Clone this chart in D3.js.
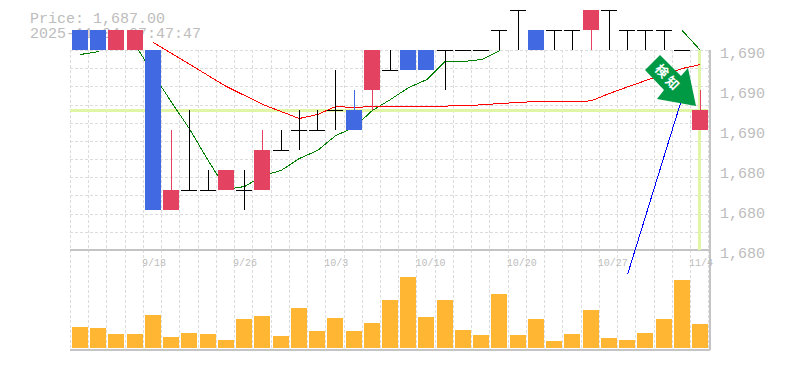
<!DOCTYPE html>
<html><head><meta charset="utf-8">
<script src="https://cdn.jsdelivr.net/npm/d3@7"></script>
<style>html,body{margin:0;padding:0;background:#fff;overflow:hidden}svg{display:block}text{font-family:"Liberation Mono",monospace}</style>
</head><body><div id="c"></div>
<script>
const dates=["9/11","9/12","9/16","9/17","9/18","9/19","9/22","9/24","9/25","9/26","9/29","9/30","10/1","10/2","10/3","10/6","10/7","10/8","10/9","10/10","10/14","10/15","10/16","10/17","10/20","10/21","10/22","10/23","10/24","10/27","10/28","10/29","10/30","10/31","11/4"];
const dateLabels=["9/18","9/26","10/3","10/10","10/20","10/27","11/4"];
const opens =[1691,1691,1690,1690,1690,1682,1683,1683,1683,1683,1683,1685,1686,1686,1687,1687,1688,1689,1690,1690,1690,1690,1690,1691,1692,1691,1691,1691,1691,1692,1691,1691,1691,1690,1686];
const closes=[1690,1690,1691,1691,1682,1683,1683,1683,1684,1683,1685,1685,1686,1686,1687,1686,1690,1689,1689,1689,1690,1690,1690,1691,1692,1690,1691,1691,1692,1692,1691,1691,1691,1690,1687];
const highs =[1691,1691,1691,1691,1690,1686,1687,1684,1684,1684,1686,1686,1687,1687,1689,1688,1690,1690,1690,1690,1690,1690,1690,1691,1692,1691,1691,1691,1692,1692,1691,1691,1691,1690,1688];
const lows  =[1690,1690,1690,1690,1682,1682,1683,1683,1683,1682,1683,1685,1685,1686,1686,1686,1687,1689,1689,1689,1688,1690,1690,1690,1690,1690,1690,1690,1690,1690,1690,1690,1690,1690,1686];
const volumes=[2100,2000,1400,1400,3300,1100,1500,1400,800,2900,3200,1200,4000,1700,3000,1700,2500,4800,7100,3100,4800,1800,1300,5400,1300,2900,700,1400,3800,1000,800,1500,2900,6800,2400];
const maShort=[1689.8,1689.95,null,1690.3,1688.8,1687.4,1686.05,1684.5,1683.05,1683.2,1683.75,1684,1684.6,1685,1685.75,1686.15,1687,1687.55,1688.15,1688.55,1689.45,1689.45,1689.55,1690,null,null,null,null,null,null,null,null,null,1691,1690];
const maLong=[null,null,null,null,1690.4,1689.85,1689.3,1688.75,1688.2,1687.75,1687.3,1686.95,1686.6,1686.8,1687.2,1687.15,1687.2,1687.18,1687.2,1687.2,1687.22,1687.25,1687.28,1687.35,1687.4,1687.45,1687.45,1687.45,1687.48,1687.85,1688.18,1688.5,1688.8,1689.1,1689.3];
const forecast=[null,null,null,null,null,null,null,null,null,null,null,null,null,null,null,null,null,null,null,null,null,null,null,null,null,null,null,null,null,null,1678.8,1681.75,1684.7,1687.65,null];
const priceTicks=[1690,1688,1686,1684,1682,1680];
const gridRows=d3.range(12);
const lastPrice=1687, lastIndex=34;
const infoLines=["Price: 1,687.00","2025-11-04 07:47:47"];
const arrowShape=[[660,55],[645,70],[664,90],[657,99],[696,106],[688,68],[681,76]];

const W=785,H=370;
const svg=d3.select("#c").append("svg").attr("width",W).attr("height",H);
const x=d3.scaleBand().domain(dates).range([70,70+18.235*dates.length]);
const cx=i=>x(dates[i])+10;
const left=i=>Math.round(x(dates[i])+2);
const y=d3.scaleLinear().domain([1680,1690]).range([250,50]);
const vy=d3.scaleLinear().domain([0,10000]).range([348,248]);
const gy=d3.scaleLinear().domain([0,11]).range([50,250]);
const grey="#bdbdbd", gridC="#dcdcdc";

svg.selectAll("text.info").data(infoLines).join("text").attr("class","info")
 .attr("x",30).attr("y",(d,i)=>23+i*15).attr("font-size",15).attr("fill",grey).text(d=>d);

const g=svg.append("g").attr("shape-rendering","crispEdges");
g.selectAll("line.gv").data(dates.concat(["end"])).join("line").attr("class","gv")
 .attr("x1",(d,i)=>Math.round(70+18.235*i)+.5).attr("x2",(d,i)=>Math.round(70+18.235*i)+.5)
 .attr("y1",50).attr("y2",350).attr("stroke",gridC).attr("stroke-dasharray","3,2");
g.selectAll("line.gh").data(gridRows).join("line").attr("class","gh")
 .attr("x1",70).attr("x2",710).attr("y1",d=>Math.round(gy(d))+.5).attr("y2",d=>Math.round(gy(d))+.5)
 .attr("stroke",gridC).attr("stroke-dasharray","3,2");
[[70,250,710,250],[70,350,710,350],[710,50,710,350]].forEach(a=>{
 g.append("line").attr("x1",a[0]).attr("y1",a[1]).attr("x2",a[2]).attr("y2",a[3]).attr("stroke","#c4c4c4").attr("stroke-width",2);
});
g.append("line").attr("x1",70).attr("x2",708).attr("y1",y(lastPrice)).attr("y2",y(lastPrice)).attr("stroke","#e0f5a5").attr("stroke-width",3);
g.append("line").attr("x1",cx(lastIndex)).attr("x2",cx(lastIndex)).attr("y1",50).attr("y2",250).attr("stroke","#e0f5a5").attr("stroke-width",3);

g.selectAll("rect.vol").data(volumes).join("rect").attr("class","vol")
 .attr("x",(d,i)=>left(i)).attr("width",16).attr("y",d=>vy(d)).attr("height",d=>vy(0)-vy(d)).attr("fill","#ffb733");

const ln=d3.line().defined(d=>d!=null).x((d,i)=>cx(i)+.5).y(d=>y(d)+.5);
[[maShort,"#008000"],[maLong,"#ff0000"],[forecast,"#0000ff"]].forEach(s=>{
 g.append("path").attr("d",ln(s[0])).attr("fill","none").attr("stroke",s[1]).attr("stroke-width",1);
});

const col=i=>closes[i]>opens[i]?"#e34360":closes[i]<opens[i]?"#4169e1":"#000";
const idx=d3.range(dates.length);
g.selectAll("line.wick").data(idx).join("line").attr("class","wick")
 .attr("x1",i=>left(i)+8.5).attr("x2",i=>left(i)+8.5).attr("y1",i=>y(highs[i])).attr("y2",i=>y(lows[i])).attr("stroke",col);
g.selectAll("rect.body").data(idx).join("rect").attr("class","body")
 .attr("x",i=>left(i)).attr("width",16)
 .attr("y",i=>y(Math.max(opens[i],closes[i])))
 .attr("height",i=>Math.max(1,y(Math.min(opens[i],closes[i]))-y(Math.max(opens[i],closes[i]))))
 .attr("fill",col);

svg.selectAll("text.py").data(priceTicks).join("text").attr("class","py")
 .attr("x",720).attr("y",d=>y(d)+8).attr("font-size",15).attr("fill",grey)
 .text(d=>d3.format(",")(Math.round(d/10)*10));
svg.selectAll("text.dl").data(dateLabels).join("text").attr("class","dl")
 .attr("x",d=>cx(dates.indexOf(d))-11).attr("y",266).attr("font-size",10).attr("fill",grey).text(d=>d);

svg.append("polygon").attr("points",arrowShape.map(p=>p.join(",")).join(" ")).attr("fill","#009944");
[["検",662,71],["知",672.5,83]].forEach(t=>{
 svg.append("text").attr("transform",`translate(${t[1]},${t[2]}) rotate(45)`).attr("text-anchor","middle").attr("dy","0.36em")
  .style("font-family","'Noto Sans CJK JP'").attr("font-weight",700).attr("font-size",13).attr("fill","#fff").text(t[0]);
});
</script></body></html>
